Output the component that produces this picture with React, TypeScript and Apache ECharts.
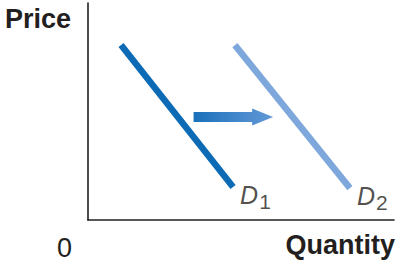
import React, { useEffect, useRef } from "react";
import * as echarts from "echarts";

// Demand curves (quantity, price) in abstract units 0..10
const d1Points: [number, number][] = [
  [1.08, 8.06],
  [4.74, 1.52],
];
const d2Points: [number, number][] = [
  [4.8, 8.06],
  [8.56, 1.47],
];
// Shift arrow: [fromQuantity, toQuantity, price]
const shiftArrow: [number, number, number][] = [[3.45, 6.05, 4.75]];
const curveNames = ["1", "2"];
const axisTitles = { y: "Price", x: "Quantity", origin: "0" };

const FONT = "'Liberation Sans', Arial, Helvetica, sans-serif";
const INK = "#231f20";

export default function App() {
  const ref = useRef<HTMLDivElement>(null);
  useEffect(() => {
    if (!ref.current) return;
    const chart = echarts.init(ref.current, null, { renderer: "svg" });
    const labelFor = (sub: string) => ({
      show: true,
      position: "right",
      distance: 7,
      offset: [0, 8],
      formatter: `{d|D}{s|${sub}}`,
      rich: {
        d: { fontFamily: FONT, fontSize: 25, fontStyle: "italic", color: INK },
        s: { fontFamily: FONT, fontSize: 21, color: INK, padding: [13, 0, 0, 1] },
      },
    });
    const ends = [
      { value: d1Points[d1Points.length - 1], label: labelFor(curveNames[0]) },
      { value: d2Points[d2Points.length - 1], label: labelFor(curveNames[1]) },
    ];
    chart.setOption({
      animation: false,
      grid: { left: 88, right: 6, top: 3, bottom: 45 },
      xAxis: {
        type: "value",
        min: 0,
        max: 10,
        axisLine: { show: true, lineStyle: { color: INK, width: 1.6 } },
        axisTick: { show: false },
        axisLabel: { show: false },
        splitLine: { show: false },
      },
      yAxis: {
        type: "value",
        min: 0,
        max: 10,
        axisLine: { show: true, lineStyle: { color: INK, width: 1.6 } },
        axisTick: { show: false },
        axisLabel: { show: false },
        splitLine: { show: false },
      },
      series: [
        {
          type: "line",
          data: d1Points,
          symbol: "none",
          lineStyle: { color: "#0d6bb5", width: 6.5, cap: "butt" },
        },
        {
          type: "line",
          data: d2Points,
          symbol: "none",
          lineStyle: { color: "#7ea8dc", width: 6.5, cap: "butt" },
        },
        {
          type: "scatter",
          data: ends,
          symbolSize: 0.1,
          itemStyle: { color: "rgba(0,0,0,0)" },
          silent: true,
        },
        {
          type: "custom",
          data: shiftArrow,
          encode: { x: [0, 1], y: 2 },
          renderItem: (params: any, api: any) => {
            const y = api.value(2);
            const a = api.coord([api.value(0), y]);
            const b = api.coord([api.value(1), y]);
            const sh = 5;
            const hh = 8.5;
            const hl = 21;
            const hx = b[0] - hl;
            return {
              type: "polygon",
              shape: {
                points: [
                  [a[0], a[1] - sh],
                  [hx, a[1] - sh],
                  [hx, a[1] - hh],
                  [b[0], a[1]],
                  [hx, a[1] + hh],
                  [hx, a[1] + sh],
                  [a[0], a[1] + sh],
                ],
              },
              style: {
                fill: new echarts.graphic.LinearGradient(0, 0, 1, 0, [
                  { offset: 0, color: "#1a70ba" },
                  { offset: 1, color: "#6399d8" },
                ]),
              },
            };
          },
        },
      ],
      graphic: [
        {
          type: "text",
          left: 5,
          top: 5,
          style: { text: axisTitles.y, font: `bold 27px ${FONT}`, fill: INK },
        },
        {
          type: "text",
          right: 5,
          top: 231,
          style: { text: axisTitles.x, font: `bold 27px ${FONT}`, fill: INK },
        },
        {
          type: "text",
          left: 57,
          top: 234,
          style: { text: axisTitles.origin, font: `27px ${FONT}`, fill: INK },
        },
      ],
    });
    return () => chart.dispose();
  }, []);
  return (
    <div
      ref={ref}
      style={{ position: "absolute", left: 0, top: 0, width: 400, height: 265 }}
    />
  );
}
